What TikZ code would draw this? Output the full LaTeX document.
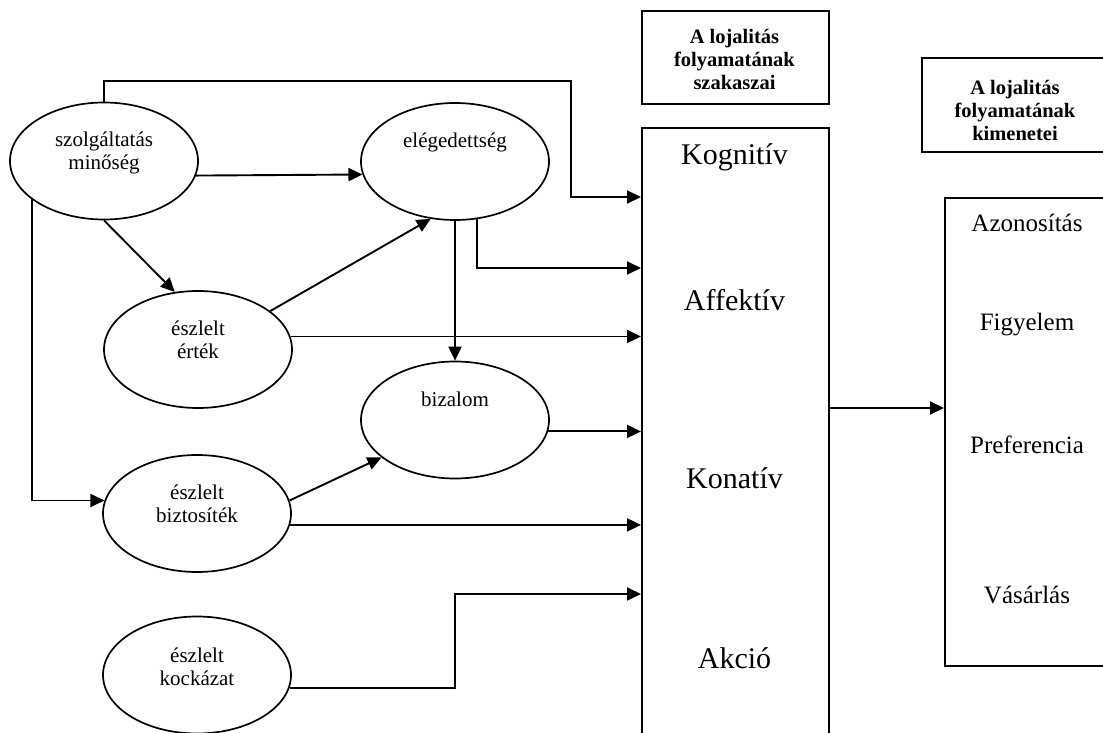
\documentclass[tikz,border=0pt]{standalone}
\usepackage{fontspec}
\setmainfont{Liberation Serif}
\usetikzlibrary{shapes.geometric,arrows.meta,calc}
\begin{document}
\begin{tikzpicture}[x=1pt,y=-1pt,
  ell/.style={draw,ellipse,line width=1.7pt,minimum width=188pt,minimum height=117pt,inner sep=0pt},
  etext/.style={align=center,font=\fontsize{21}{23.5}\selectfont,inner sep=0pt},
  box/.style={draw,line width=1.8pt,inner sep=0pt,anchor=north west},
  htext/.style={align=center,font=\fontsize{20.5}{23}\selectfont\bfseries,inner sep=0pt},
  stagetext/.style={font=\fontsize{30}{36}\selectfont,inner sep=0pt},
  outtext/.style={font=\fontsize{25}{30}\selectfont,inner sep=0pt},
  arr/.style={line width=1.9pt,-{Triangle[length=14pt,width=13pt]}}]
\useasboundingbox (0,0) rectangle (1103,733);
\clip (0,0) rectangle (1103,733);

% boxes
\node[box,minimum width=187pt,minimum height=93pt] (h1) at (641,10) {};
\node[htext] (h1t) at (734.5,59.5) {A lojalitás\\folyamatának\\szakaszai};
\node[box,minimum width=189pt,minimum height=94pt] (h2) at (921,57) {};
\node[htext] (h2t) at (1015,110) {A lojalitás\\folyamatának\\kimenetei};
\node[box,minimum width=187pt,minimum height=650pt] (stage) at (641,127) {};
\node[box,minimum width=170pt,minimum height=468pt] (outbox) at (944,197) {};

% stage labels
\node[stagetext] (s1) at (734.5,157) {Kognitív};
\node[stagetext] (s2) at (734.5,300) {Affektív};
\node[stagetext] (s3) at (734.5,478) {Konatív};
\node[stagetext] (s4) at (734.5,658) {Akció};

% output labels
\node[outtext] (o1) at (1027,223) {Azonosítás};
\node[outtext] (o2) at (1027,325) {Figyelem};
\node[outtext] (o3) at (1027,445) {Preferencia};
\node[outtext] (o4) at (1027,595) {Vásárlás};

% ellipses
\node[ell] (szolg) at (104,161) {};
\node[etext] (szolgt) at (104,153) {szolgáltatás\\minőség};
\node[ell] (eleg) at (455,161.5) {};
\node[etext] (elegt) at (455,142) {elégedettség};
\node[ell] (ertek) at (198,349.5) {};
\node[etext] (ertekt) at (198,340) {észlelt\\érték};
\node[ell] (bizalom) at (455,420) {};
\node[etext] (bizalomt) at (455,399) {bizalom};
\node[ell] (bizt) at (197,513.5) {};
\node[etext] (biztt) at (197,504) {észlelt\\biztosíték};
\node[ell] (kock) at (197,675) {};
\node[etext] (kockt) at (197,667) {észlelt\\kockázat};

% level coordinates
\coordinate (lvK) at (0,197);
\coordinate (lvA) at (0,268);
\coordinate (lvO) at (0,408);
\coordinate (t1) at (571,81);
\coordinate (kb) at (455,594);

% connectors
\draw[arr] (szolg.north) |- (t1) |- (stage.west |- lvK);
\draw[arr] (szolg.-9) -- (eleg.188);
\draw[arr] (szolg.south) -- (ertek.112);
\draw[arr] (szolg.208) |- (bizt.172);
\draw[arr] (ertek.28) -- (eleg.247);
\draw[arr] (ertek.8) -- (ertek.8 -| stage.west);
\draw[arr] (eleg.291) |- (stage.west |- lvA);
\draw[arr] (eleg.south) -- (bizalom.north);
\draw[arr] (bizalom.353) -- (bizalom.353 -| stage.west);
\draw[arr] (bizt.8) -- (bizalom.207);
\draw[arr] (bizt.353) -- (bizt.353 -| stage.west);
\draw[arr] (kock.352) -| (kb) -- (kb -| stage.west);
\draw[arr] (stage.east |- lvO) -- (outbox.west |- lvO);
\end{tikzpicture}
\end{document}
